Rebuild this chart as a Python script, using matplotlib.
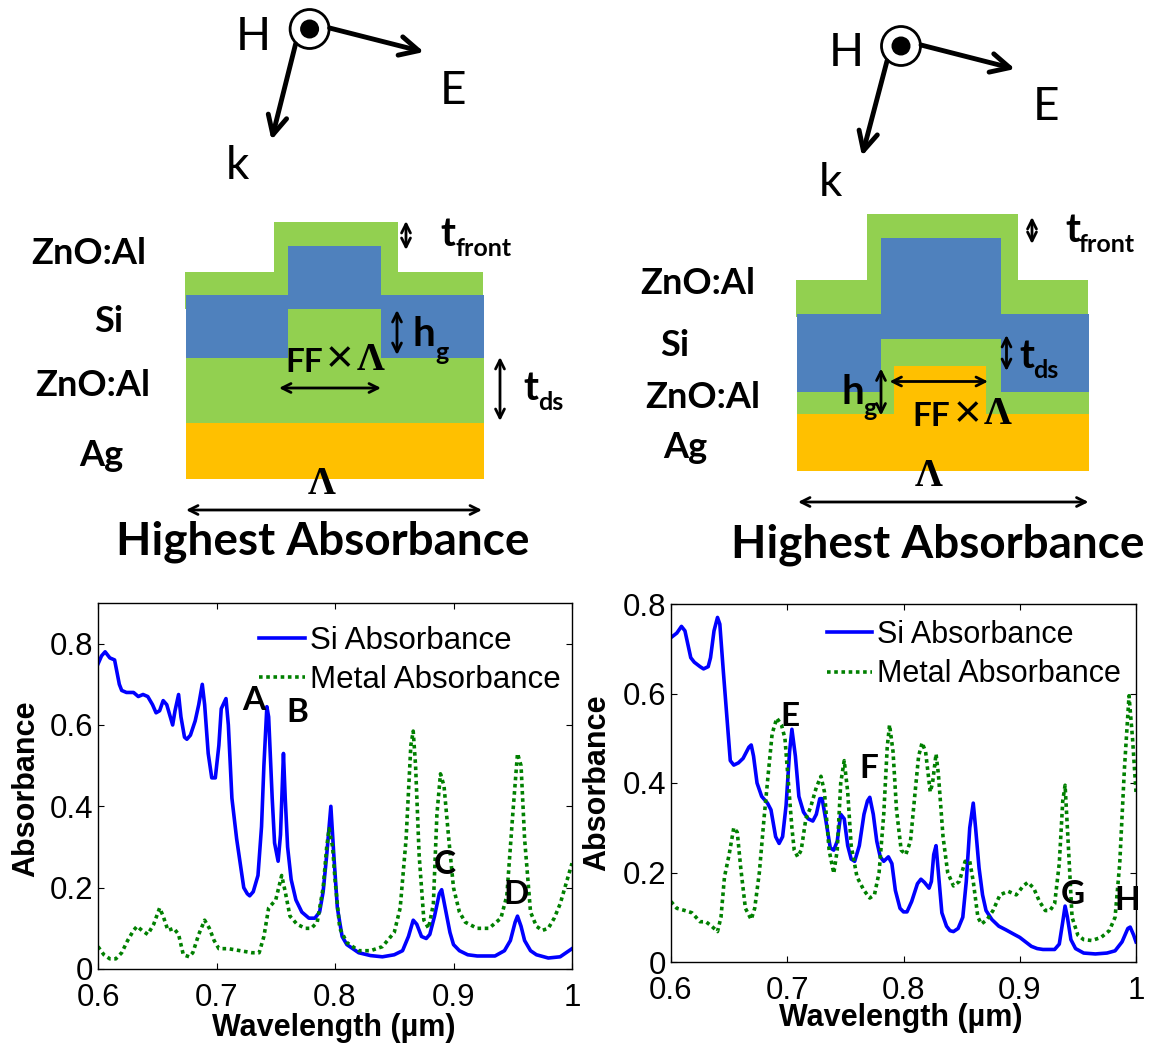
#!/usr/bin/env python3
"""Grating cell sketches (top) and absorbance spectra (bottom)."""
import matplotlib
matplotlib.use("Agg")
import matplotlib.pyplot as plt
from matplotlib.patches import Circle, Rectangle

W, H = 1153, 1046
GREEN, BLUE, GOLD = "#92D050", "#4F81BD", "#FFC000"
CAL = ["Lato", "DejaVu Sans"]
ARIAL = ["Liberation Sans", "DejaVu Sans"]

# left spectrum
wl_a_si = [.600, .603, .606, .610, .614, .618, .620, .624, .630, .634, .638, .642, .646, .649, .652, .655, .658, .661,
           .663, .665, .668, .670, .673, .675, .678, .682, .685, .688, .690, .693, .696, .699, .702, .704, .708, .710,
           .713, .717, .720, .723, .726, .728, .731, .735, .738, .740, .7425, .744, .747, .749, .752, .754, .7565,
           .758, .760, .763, .767, .772, .778, .783, .787, .790, .793, .7965, .799, .802, .806, .810, .820, .830,
           .840, .850, .857, .862, .866, .869, .873, .877, .880, .884, .888, .890, .893, .897, .900, .905, .912,
           .920, .935, .943, .948, .952, .954, .957, .960, .965, .970, .980, .990, .995, 1.0]
a_si = [.75, .77, .78, .765, .76, .70, .685, .68, .68, .67, .675, .67, .65, .63, .635, .66, .65, .62,
        .60, .635, .675, .62, .57, .565, .575, .61, .65, .70, .65, .53, .47, .47, .55, .64, .665, .60,
        .42, .32, .26, .20, .185, .18, .19, .23, .35, .50, .645, .62, .42, .31, .265, .33, .53,
        .42, .30, .22, .17, .14, .125, .125, .14, .19, .28, .40, .28, .15, .08, .06, .04, .033,
        .03, .035, .045, .08, .12, .11, .08, .075, .085, .13, .185, .195, .15, .09, .06, .045, .035,
        .032, .032, .045, .07, .115, .13, .105, .07, .045, .035, .027, .03, .04, .05]
wl_a_metal = [.60, .605, .61, .615, .62, .625, .63, .633, .637, .642, .647, .652, .655, .659, .664, .668, .672, .677,
              .68, .685, .69, .694, .698, .702, .71, .72, .73, .736, .74, .744, .75, .755, .758, .762, .768, .775,
              .78, .785, .79, .793, .795, .798, .80, .804, .81, .82, .83, .84, .85, .855, .86, .864, .866, .868,
              .871, .875, .879, .883, .886, .889, .892, .896, .90, .905, .91, .92, .93, .94, .945, .95, .954, .957,
              .96, .965, .97, .975, .98, .985, .99, .995, 1.0]
a_metal = [.055, .035, .025, .025, .04, .07, .095, .105, .095, .085, .11, .15, .13, .095, .10, .085, .035, .03,
           .04, .085, .12, .10, .07, .05, .05, .045, .04, .04, .08, .15, .17, .23, .19, .13, .11, .10,
           .10, .115, .20, .30, .345, .30, .22, .10, .065, .045, .045, .055, .09, .15, .32, .55, .585, .50,
           .28, .12, .10, .16, .38, .48, .45, .32, .20, .14, .115, .10, .10, .125, .18, .38, .53, .50,
           .32, .14, .105, .095, .10, .125, .16, .21, .26]

# right spectrum
wl_b_si = [.60, .605, .609, .612, .617, .62, .625, .628, .632, .634, .637, .64, .642, .645, .648, .651, .654, .658,
           .662, .667, .669, .671, .674, .678, .683, .686, .69, .693, .696, .699, .702, .704, .707, .71, .714, .718,
           .722, .725, .728, .73, .733, .737, .74, .743, .746, .749, .752, .755, .758, .762, .766, .769, .771, .774,
           .777, .78, .783, .787, .79, .793, .797, .80, .803, .807, .812, .815, .818, .822, .824, .826, .828, .83,
           .833, .837, .84, .843, .847, .851, .854, .857, .86, .862, .865, .868, .871, .876, .882, .888, .895, .90,
           .905, .91, .915, .92, .93, .934, .937, .939, .941, .944, .948, .955, .965, .975, .982, .988, .993, .995,
           .998, 1.0]
b_si = [.725, .735, .75, .74, .68, .67, .66, .655, .66, .68, .74, .77, .755, .65, .55, .45, .44, .445,
        .455, .48, .485, .46, .40, .37, .355, .34, .28, .265, .28, .35, .47, .52, .46, .37, .335, .32,
        .315, .33, .365, .365, .32, .255, .25, .27, .33, .32, .26, .23, .225, .26, .33, .36, .368, .33,
        .27, .235, .225, .235, .22, .16, .12, .112, .112, .135, .175, .185, .178, .165, .18, .24, .26, .20,
        .11, .08, .07, .068, .075, .10, .18, .30, .355, .30, .21, .15, .115, .095, .08, .072, .062, .055,
        .045, .035, .03, .028, .028, .04, .09, .125, .10, .05, .03, .02, .018, .02, .025, .045, .075, .078,
        .06, .045]
wl_b_metal = [.60, .605, .612, .618, .625, .63, .635, .64, .643, .646, .65, .654, .657, .66, .664, .669, .672, .676,
              .68, .684, .687, .691, .695, .698, .701, .704, .706, .709, .712, .716, .72, .725, .729, .732, .736,
              .74, .743, .746, .749, .752, .755, .76, .766, .771, .775, .779, .783, .786, .788, .791, .794, .798,
              .802, .806, .81, .813, .816, .819, .823, .825, .828, .83, .834, .838, .843, .848, .853, .857, .86,
              .864, .867, .872, .877, .883, .89, .897, .903, .907, .912, .917, .922, .926, .93, .934, .937, .939,
              .942, .945, .95, .955, .962, .97, .977, .982, .986, .99, .994, .997, 1.0]
b_metal = [.135, .12, .115, .11, .09, .09, .08, .068, .10, .19, .24, .30, .29, .21, .12, .095, .12, .20,
           .32, .43, .51, .545, .53, .50, .40, .30, .25, .235, .25, .32, .345, .39, .415, .38, .25,
           .198, .25, .40, .45, .38, .26, .19, .16, .143, .15, .20, .33, .48, .53, .47, .34, .25,
           .24, .27, .38, .46, .49, .47, .38, .40, .465, .42, .28, .20, .17, .18, .225, .225, .18,
           .10, .085, .095, .115, .15, .158, .15, .17, .178, .165, .135, .115, .115, .13, .22, .36, .395,
           .25, .10, .06, .05, .048, .055, .07, .10, .22, .43, .595, .50, .38]

x_ticks = [.6, .7, .8, .9, 1]
x_tick_labels = ["0.6", "0.7", "0.8", "0.9", "1"]
y_ticks = [0, .2, .4, .6, .8]
y_tick_labels = ["0", "0.2", "0.4", "0.6", "0.8"]

fig = plt.figure(figsize=(W / 100, H / 100), dpi=100, facecolor="white")


def axes_px(x0, y0, x1, y1):
    return fig.add_axes([x0 / W, 1 - y1 / H, (x1 - x0) / W, (y1 - y0) / H])


# overlay in image pixels, everything sketched goes here
px = fig.add_axes([0, 0, 1, 1], zorder=5)
px.set_xlim(0, W)
px.set_ylim(H, 0)
px.axis("off")


def rect(x0, y0, x1, y1, c, z=1):
    px.add_patch(Rectangle((x0, y0), x1 - x0, y1 - y0, fc=c, ec="none", zorder=z))


def label(x, y, s, size, weight="bold", family=CAL):
    px.text(x, y, s, fontsize=size, fontweight=weight, family=family, ha="center", va="center", color="black", zorder=6)


def arrow(x0, y0, x1, y1, lw=2.0, style="<->", ms=16):
    px.annotate("", xy=(x1, y1), xytext=(x0, y0),
                arrowprops=dict(arrowstyle=style, lw=lw, color="black", mutation_scale=ms,
                                shrinkA=0, shrinkB=0), zorder=6)


def triad(cx, cy, e_end, k_end):
    px.add_patch(Circle((cx, cy), 19.5, fc="white", ec="black", lw=2, zorder=3))
    px.add_patch(Circle((cx, cy), 9.5, fc="black", ec="none", zorder=4))
    arrow(cx + 20, cy - 1, e_end[0], e_end[1], lw=3.5, style="->", ms=34)
    arrow(cx - 14, cy + 15, k_end[0], k_end[1], lw=3.5, style="->", ms=34)


# left cell
triad(309.6, 29, (424, 52), (271.5, 140))
label(253, 37, "H", 33, "normal")
label(453, 91, "E", 33, "normal")
label(237, 166, "k", 33, "normal")
rect(274, 222, 398, 272, GREEN)
rect(184.5, 271.5, 483, 309, GREEN)
rect(185.7, 294.5, 483.5, 357.5, BLUE, 2)
rect(288, 246, 381, 295, BLUE, 2)
rect(288, 309, 381, 358, GREEN, 3)
rect(185.7, 357.5, 483.5, 422.6, GREEN, 3)
rect(185.7, 422.6, 483.5, 478.5, GOLD, 3)
label(89, 253, "ZnO:Al", 26)
label(109, 321, "Si", 26)
label(93, 386, "ZnO:Al", 26)
label(101, 456, "Ag", 26)
label(448, 235, "t", 29)
label(484, 249, "front", 18)
label(424, 334, "h", 29)
label(441.5, 352, "g", 18)
label(531, 388, "t", 29)
label(551, 403, "ds", 18)
label(304, 363, "FF", 24)
label(340, 360, "×", 34, "normal", ARIAL)
label(371, 361, "Λ", 28, "bold", ["Liberation Serif"])
label(322, 484, "Λ", 28, "bold", ["Liberation Serif"])
label(323, 542, "Highest Absorbance", 33)
arrow(406, 221, 406, 250)
arrow(397, 310, 397, 355)
arrow(500, 357, 500, 421)
arrow(279, 388, 381, 388)
arrow(186, 510, 482, 510)

# right cell
triad(901, 46, (1015, 69), (862, 156))
label(846, 53, "H", 33, "normal")
label(1046, 107, "E", 33, "normal")
label(830, 183, "k", 33, "normal")
rect(867, 214.4, 1018, 281, GREEN)
rect(796, 280, 1088, 317, GREEN)
rect(797, 314.4, 1089, 391.5, BLUE, 2)
rect(881, 238, 1001, 315, BLUE, 2)
rect(881, 338.5, 1001, 415, GREEN, 3)
rect(797, 391.5, 1089, 414.4, GREEN, 3)
rect(797, 414.4, 1089, 470.7, GOLD, 4)
rect(894, 366, 986, 415, GOLD, 4)
label(698, 284, "ZnO:Al", 26)
label(675, 345, "Si", 26)
label(703, 398, "ZnO:Al", 26)
label(685, 448, "Ag", 26)
label(1073, 230, "t", 29)
label(1107, 244, "front", 18)
label(1027, 357, "t", 29)
label(1046, 371, "ds", 18)
label(853, 393, "h", 29)
label(870, 409, "g", 18)
label(931.5, 417, "FF", 24)
label(967.5, 415, "×", 34, "normal", ARIAL)
label(998, 415, "Λ", 28, "bold", ["Liberation Serif"])
label(929, 476, "Λ", 28, "bold", ["Liberation Serif"])
label(938, 545, "Highest Absorbance", 33)
arrow(1032, 217, 1032, 244)
arrow(1006.5, 335, 1006.5, 371)
arrow(881, 368.5, 881, 415.5)
arrow(889.5, 381.5, 988, 381.5)
arrow(798, 502, 1088.5, 502)


def spectrum(box, ylim, wl_si, si, wl_metal, metal, legend_at, legend_size, xlabel_at, ylabel_at):
    ax = axes_px(*box)
    ax.plot(wl_si, si, color="#0000FF", lw=2.6, label="Si Absorbance")
    ax.plot(wl_metal, metal, color="#008000", lw=2.6, ls=(0, (1, 1)), label="Metal Absorbance")
    ax.set_xlim(.6, 1)
    ax.set_ylim(*ylim)
    ax.set_xticks(x_ticks, x_tick_labels)
    ax.set_yticks(y_ticks, y_tick_labels)
    ax.tick_params(direction="in", top=True, right=True, length=4, width=0.8, labelsize=22.5)
    ax.tick_params(axis="x", pad=10)
    ax.tick_params(axis="y", pad=3.5)
    for t in ax.get_xticklabels() + ax.get_yticklabels():
        t.set_family(ARIAL)
    for s in ax.spines.values():
        s.set_linewidth(1.0)
    ax.set_xlabel("Wavelength (µm)", fontsize=22, fontweight="bold", family=ARIAL)
    ax.set_ylabel("Absorbance", fontsize=22, fontweight="bold", family=ARIAL)
    ax.xaxis.set_label_coords(xlabel_at[0], xlabel_at[1], transform=px.transData)
    ax.yaxis.set_label_coords(ylabel_at[0], ylabel_at[1], transform=px.transData)
    ax.xaxis.label.set_va("center")
    ax.yaxis.label.set_va("center")
    ax.legend(loc="upper left", bbox_to_anchor=legend_at, frameon=False, handlelength=1.47, handletextpad=0.16,
              labelspacing=0.3, borderpad=0, borderaxespad=0, prop={"family": ARIAL, "size": legend_size})
    return ax


spectrum((98, 603, 572, 969), (0, .9), wl_a_si, a_si, wl_a_metal, a_metal, (.34, .937), 22.5, (334, 1028), (26, 789))
spectrum((671, 604, 1136, 962), (0, .8), wl_b_si, b_si, wl_b_metal, b_metal, (.336, .955), 22, (901, 1018), (597, 783))

for x, y, s in [(254, 700, "A"), (297, 713, "B"), (445, 864, "C"), (516, 894, "D"),
                (790, 716, "E"), (869, 769, "F"), (1073, 895, "G"), (1127, 900, "H")]:
    label(x, y, s, 24)

fig.savefig("out.png", dpi=100)
